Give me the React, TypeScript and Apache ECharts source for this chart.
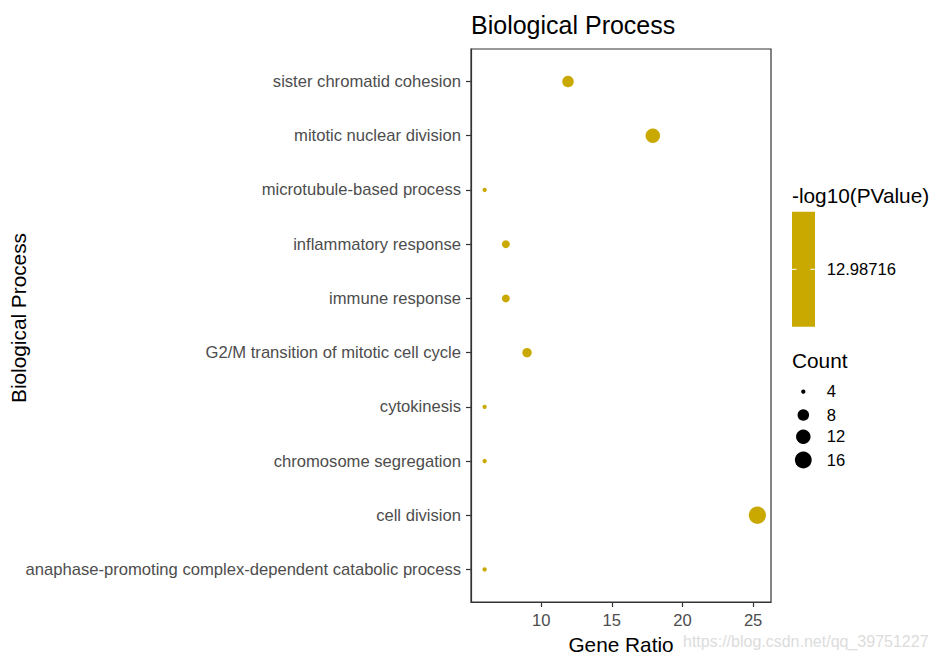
import React, { useEffect, useRef } from "react";
import * as echarts from "echarts";

// Categories bottom to top (ggplot order)
const categories = [
  "anaphase-promoting complex-dependent catabolic process",
  "cell division",
  "chromosome segregation",
  "cytokinesis",
  "G2/M transition of mitotic cell cycle",
  "immune response",
  "inflammatory response",
  "microtubule-based process",
  "mitotic nuclear division",
  "sister chromatid cohesion",
];
const geneRatio = [6.0, 25.3, 6.0, 6.0, 9.0, 7.5, 7.5, 6.0, 17.9, 11.9];
const counts = [4, 17, 4, 4, 6, 5, 5, 4, 12, 8];
const logP = 12.98716;
const xTicks = [10, 15, 20, 25];
const countLegend = [4, 8, 12, 16];

const FONT = "'Liberation Sans', Arial, sans-serif";
const DOT = "#C9A900";

export default function App() {
  const ref = useRef<HTMLDivElement>(null);
  useEffect(() => {
    if (!ref.current) return;
    const chart = echarts.init(ref.current, undefined, { renderer: "svg" });
    const cMin = Math.min(...counts);
    const cMax = Math.max(...counts);
    const diam = (c: number) => {
      const t = Math.max(0, (c - cMin) / (cMax - cMin));
      const s = 1 + 5 * Math.sqrt(t);
      return 1.7 + 2.6 * s;
    };
    const xr0 = Math.min(...geneRatio);
    const xr1 = Math.max(...geneRatio);
    const ex = (xr1 - xr0) * 0.05;
    const yIdx = categories.map((_, i) => i);

    const gL = 471, gT = 49, gW = 300, gH = 553;
    const legX = 792;
    const countYs = [391.7, 415, 436.7, 460];

    const graphics: any[] = [
      {
        type: "text",
        x: 18,
        y: 318,
        rotation: Math.PI / 2,
        style: {
          text: "Biological Process",
          font: `20.8px ${FONT}`,
          fill: "#000",
          align: "center",
          verticalAlign: "middle",
        },
      },
      {
        type: "text",
        x: legX,
        y: 195,
        style: {
          text: "-log10(PValue)",
          font: `20.8px ${FONT}`,
          fill: "#000",
          align: "left",
          verticalAlign: "middle",
        },
      },
      {
        type: "rect",
        shape: { x: legX, y: 211.7, width: 23, height: 115 },
        style: { fill: DOT },
      },
      {
        type: "line",
        shape: { x1: legX, y1: 269.3, x2: legX + 4.6, y2: 269.3 },
        style: { stroke: "#fff", lineWidth: 1 },
      },
      {
        type: "line",
        shape: { x1: legX + 18.4, y1: 269.3, x2: legX + 23, y2: 269.3 },
        style: { stroke: "#fff", lineWidth: 1 },
      },
      {
        type: "text",
        x: 826.7,
        y: 269.3,
        style: {
          text: String(logP),
          font: `16.6px ${FONT}`,
          fill: "#000",
          align: "left",
          verticalAlign: "middle",
        },
      },
      {
        type: "text",
        x: legX,
        y: 360,
        style: {
          text: "Count",
          font: `20.8px ${FONT}`,
          fill: "#000",
          align: "left",
          verticalAlign: "middle",
        },
      },
      {
        type: "text",
        x: 683,
        y: 641.7,
        style: {
          text: "https://blog.csdn.net/qq_39751227",
          font: `16px ${FONT}`,
          fill: "#dcdcdc",
          align: "left",
          verticalAlign: "middle",
        },
      },
    ];
    countLegend.forEach((c, i) => {
      graphics.push({
        type: "circle",
        shape: { cx: 803.3, cy: countYs[i], r: diam(c) / 2 },
        style: { fill: "#000" },
      });
      graphics.push({
        type: "text",
        x: 826.7,
        y: countYs[i],
        style: {
          text: String(c),
          font: `16.6px ${FONT}`,
          fill: "#000",
          align: "left",
          verticalAlign: "middle",
        },
      });
    });

    chart.setOption({
      animation: false,
      backgroundColor: "#fff",
      textStyle: { fontFamily: FONT },
      title: {
        text: "Biological Process",
        left: 471,
        top: 12,
        padding: 0,
        textStyle: { fontFamily: FONT, fontSize: 25, fontWeight: "normal", color: "#000" },
      },
      grid: {
        left: gL,
        top: gT,
        width: gW,
        height: gH,
        show: true,
        borderColor: "#333333",
        borderWidth: 1.2,
        backgroundColor: "#fff",
      },
      xAxis: {
        type: "value",
        min: xr0 - ex,
        max: xr1 + ex,
        name: "Gene Ratio",
        nameLocation: "middle",
        nameGap: 31,
        nameTextStyle: { fontFamily: FONT, fontSize: 20.8, color: "#000" },
        axisLine: { show: true, onZero: false, lineStyle: { color: "#333333", width: 1.2 } },
        axisTick: { show: true, length: 5, lineStyle: { color: "#333333", width: 1.2 }, customValues: xTicks },
        axisLabel: { customValues: xTicks, fontFamily: FONT, fontSize: 16.6, color: "#4D4D4D", margin: 10 },
        splitLine: { show: false },
      },
      yAxis: {
        type: "value",
        min: -0.6,
        max: categories.length - 1 + 0.6,
        axisLine: { show: true, onZero: false, lineStyle: { color: "#333333", width: 1.2 } },
        axisTick: { show: true, length: 5, lineStyle: { color: "#333333", width: 1.2 }, customValues: yIdx },
        axisLabel: {
          customValues: yIdx,
          formatter: (v: number) => categories[Math.round(v)] ?? "",
          fontFamily: FONT,
          fontSize: 16.6,
          color: "#4D4D4D",
          margin: 10,
          padding: [3, 0, 0, 0],
        },
        splitLine: { show: false },
      },
      series: [
        {
          type: "scatter",
          data: categories.map((_, i) => [geneRatio[i], i, counts[i]]),
          symbolSize: (val: number[]) => diam(val[2]),
          itemStyle: { color: DOT, opacity: 1 },
          silent: true,
        },
      ],
      graphic: graphics,
    });
    return () => chart.dispose();
  }, []);
  return (
    <div
      ref={ref}
      style={{ position: "fixed", left: 0, top: 0, width: 936, height: 662 }}
    />
  );
}
